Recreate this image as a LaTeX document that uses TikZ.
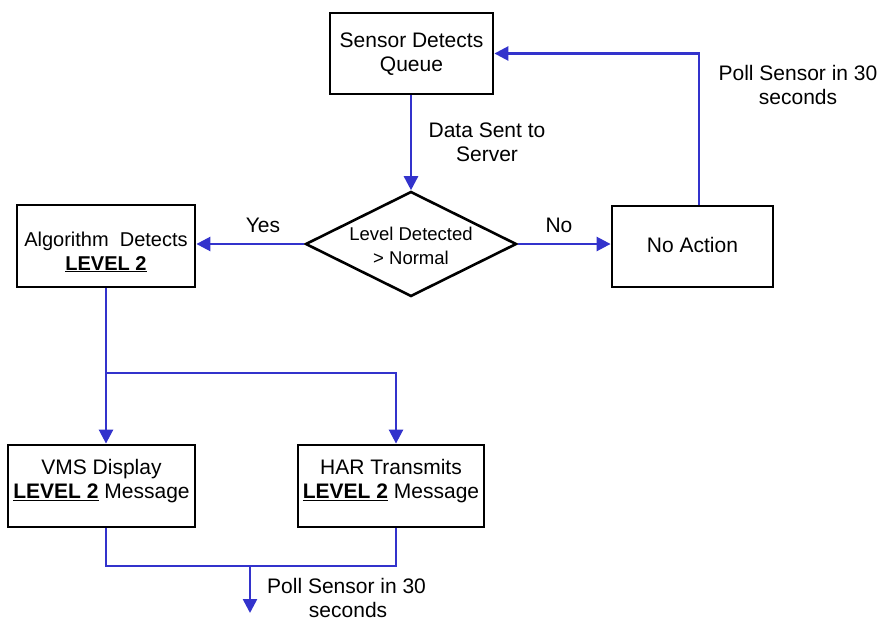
\documentclass[tikz,border=0pt]{standalone}
\usepackage{fontspec}
\setmainfont{Liberation Sans}
\usetikzlibrary{shapes.geometric,arrows.meta,calc}
\definecolor{flowblue}{RGB}{51,51,204}
\tikzset{
  box/.style={draw=black,line width=2.8pt,rectangle,inner sep=0pt},
  decision/.style={draw=black,line width=2.6pt,diamond,inner sep=0pt,
    minimum width=211pt,minimum height=105pt},
  txt/.style={align=center,inner sep=0pt,font=\fontsize{21}{24}\selectfont},
  flow/.style={draw=flowblue,line width=2.6pt},
  arr/.style={flow,-{Triangle[length=14pt,width=14pt]}},
}
\newcommand{\lvltwo}{\textbf{\underline{LEVEL 2}}}
\begin{document}
\begin{tikzpicture}[x=1pt,y=-1pt]
\useasboundingbox (0,0) rectangle (884,621);

% process boxes and the decision
\node[box,minimum width=163pt,minimum height=81pt] (sensor) at (411.5,53.5) {};
\node[decision] (dia) at (411,244) {};
\node[box,minimum width=178pt,minimum height=82pt] (alg) at (106,246) {};
\node[box,minimum width=161pt,minimum height=81pt] (noact) at (692.5,246.5) {};
\node[box,minimum width=187pt,minimum height=82pt] (vms) at (101.5,486) {};
\node[box,minimum width=186pt,minimum height=82pt] (har) at (391,486) {};

% box texts
\node[txt] (sensortext) at (411.5,54) {Sensor Detects\\Queue};
\node[txt,font=\fontsize{18.5}{24}\selectfont] (diatext) at (411,246) {Level Detected\\> Normal};
\node[txt,font=\fontsize{20}{24}\selectfont] (algtext) at (106,252)
  {Algorithm\ \ Detects\\\lvltwo};
\node[txt] (noacttext) at (692.5,245) {No Action};
\node[txt] (vmstext) at (101.5,481) {VMS Display\\\lvltwo{} Message};
\node[txt] (hartext) at (391,481) {HAR Transmits\\\lvltwo{} Message};

% connector labels
\node[txt] (lsent) at (487,142) {Data Sent to\\Server};
\node[txt] (lyes) at (263,225) {Yes};
\node[txt] (lno) at (559,225) {No};
\node[txt] (lpoll) at (798,85) {Poll Sensor in 30\\seconds};
\node[txt,anchor=north west] (lpoll2) at (267,578) {Poll Sensor in 30\\\hspace*{3pt}seconds};

% junction points
\coordinate (split) at (106,373);
\coordinate (merge) at (250,566);
\coordinate (tail) at (250,613);

% connectors
\draw[arr] (sensor.south -| dia.north) -- (dia.north);
\draw[arr] (dia.west) -- (dia.west -| alg.east);
\draw[arr] (dia.east) -- (dia.east -| noact.west);
\draw[arr] ([xshift=6.5pt]noact.north) |- (sensor.east);
\draw[arr] (alg.south) -- (alg.south |- vms.north);
\draw[arr] (split) -| ([xshift=5pt]har.north);
\draw[flow] ([xshift=4.5pt]vms.south) |- ([xshift=5pt]har.south |- merge) -- ([xshift=5pt]har.south);
\draw[arr] (merge) -- (tail);
\end{tikzpicture}
\end{document}
